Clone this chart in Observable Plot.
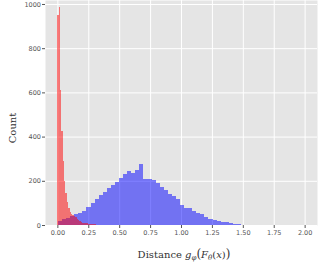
<!DOCTYPE html>
<html>
<head>
<meta charset="utf-8">
<script src="https://cdn.jsdelivr.net/npm/d3@7"></script>
<script src="https://cdn.jsdelivr.net/npm/@observablehq/plot@0.6"></script>
<style>
  html, body { margin: 0; padding: 0; background: white; }
  #chart svg { display: block; }
</style>
</head>
<body>
<div id="chart"></div>
<script>
// Histogram of distances (blue series, 50 bins)
const blueStart = 0.005;
const blueWidth = 0.0329;
const blueCounts = [18,25,33,40,48,56,63,83,101,116,136,151,166,181,196,211,230,245,234,249,274,208,208,202,188,173,158,139,133,118,90,78,75,63,53,48,38,26,21,18,15,12,8,4,3,1,0,0,1,2];

// Histogram of distances (red series, narrow bins)
const redStart = -0.002;
const redWidth = 0.0113;
const redCounts = [950,985,611,427,290,200,145,105,78,60,50,44,40,34,28,23,18,14,11,9,8,7,6,5,4,4,3,3,2,2,1,1,1];

const xTicks = [0, 0.25, 0.5, 0.75, 1.0, 1.25, 1.5, 1.75, 2.0];
const yTicks = [0, 200, 400, 600, 800, 1000];

const blueBins = blueCounts.map((c, i) => ({x1: blueStart + i * blueWidth, x2: blueStart + (i + 1) * blueWidth, c}));
const redBins = redCounts.map((c, i) => ({x1: redStart + i * redWidth, x2: redStart + (i + 1) * redWidth, c}));

const chart = Plot.plot({
  width: 327,
  height: 268,
  marginLeft: 45,
  marginRight: 10,
  marginTop: 0,
  marginBottom: 43,
  style: {background: "white", fontFamily: "DejaVu Sans", fontSize: "6.5px", color: "#555"},
  x: {domain: [-0.1, 2.1], label: null},
  y: {domain: [0, 1018], label: null},
  marks: [
    Plot.frame({fill: "#e5e5e5", stroke: null}),
    Plot.gridX(xTicks, {stroke: "white", strokeOpacity: 1, strokeWidth: 1}),
    Plot.gridY(yTicks, {stroke: "white", strokeOpacity: 1, strokeWidth: 1}),
    Plot.rect(blueBins, {x1: "x1", x2: "x2", y1: 0, y2: "c", fill: "blue", fillOpacity: 0.5, shapeRendering: "crispEdges"}),
    Plot.rect(redBins, {x1: "x1", x2: "x2", y1: 0, y2: "c", fill: "red", fillOpacity: 0.5, shapeRendering: "crispEdges"}),
    Plot.axisX(xTicks, {tickFormat: d => d.toFixed(2), tickSize: 3, tickPadding: 2, stroke: "#555", fill: "#555", label: null}),
    Plot.axisY(yTicks, {tickFormat: d => String(d), tickSize: 3, tickPadding: 1.5, stroke: "#555", fill: "#555", label: null})
  ]
});

document.getElementById("chart").appendChild(chart);

const svg = d3.select(chart);
svg.append("text")
  .attr("transform", "translate(16,128) rotate(-90)")
  .attr("text-anchor", "middle")
  .attr("font-family", "DejaVu Serif")
  .attr("font-size", 10)
  .attr("fill", "#333")
  .text("Count");

const xl = svg.append("text")
  .attr("x", 184)
  .attr("y", 258)
  .attr("text-anchor", "middle")
  .attr("font-family", "DejaVu Serif")
  .attr("font-size", 10)
  .attr("fill", "#333");
xl.append("tspan").text("Distance ");
xl.append("tspan").attr("font-style", "italic").text("g");
xl.append("tspan").attr("font-style", "italic").attr("font-size", 7).attr("dy", 2).text("φ");
xl.append("tspan").attr("font-size", 12).attr("dy", -2).text("(");
xl.append("tspan").attr("font-style", "italic").text("F");
xl.append("tspan").attr("font-style", "italic").attr("font-size", 7).attr("dy", 2).text("θ");
xl.append("tspan").attr("dy", -2).text("(");
xl.append("tspan").attr("font-style", "italic").text("x");
xl.append("tspan").text(")");
xl.append("tspan").attr("font-size", 12).text(")");
</script>
</body>
</html>
